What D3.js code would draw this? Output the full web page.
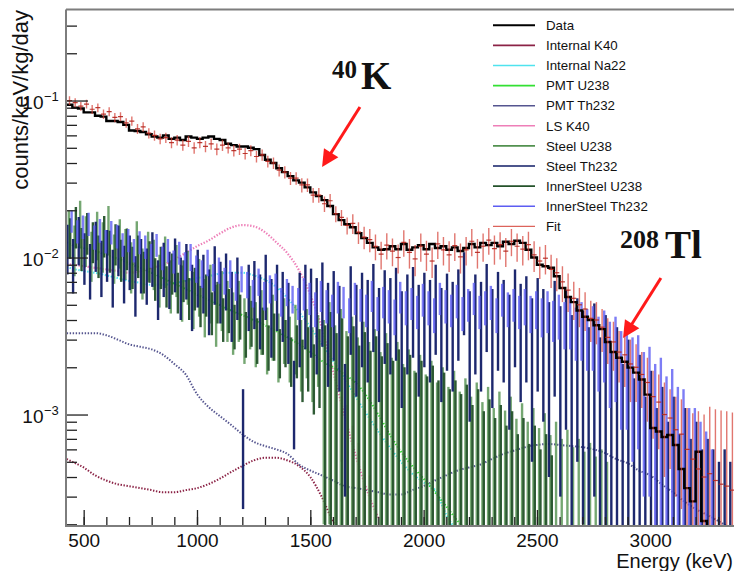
<!DOCTYPE html>
<html><head><meta charset="utf-8">
<script src="https://cdn.jsdelivr.net/npm/d3@7"></script>
<style>
html,body{margin:0;padding:0;background:#fff;}
svg{display:block;font-family:"Liberation Sans",Arial,Helvetica,sans-serif;}
</style></head><body>
<svg id="chart" width="734" height="571"></svg>
<script>
// ---------------- DATA ----------------
// Histogram bins: 25 keV wide, centres 437.5 ... 3362.5 keV (118 bins)
const binStart = 437.5, binWidth = 25, nBins = 118;

// Data (black histogram), counts/keV/kg/day
const dataVals = [
 .094,.090,.089,.084,.084,.080,.079,.074,.074,.073,
 .070,.0645,.064,.063,.061,.059,.058,.060,.057,.058,
 .056,.059,.058,.057,.058,.059,.057,.056,.053,.052,
 .051,.051,.050,.049,.045,.042,.040,.037,.035,.033,
 .031,.030,.028,.026,.0246,.0232,.0213,.0189,.0173,.0163,
 .0156,.0143,.0133,.0124,.0116,.0112,.0113,.0118,.0113,.0122,
 .0112,.0116,.0120,.0113,.0122,.0115,.0118,.0112,.0116,.0110,
 .0115,.0122,.0116,.0124,.0120,.0124,.0118,.0126,.0122,.0128,
 .0124,.0112,.0100,.0090,.0088,.0086,.0076,.0064,.0056,.0052,
 .0046,.0042,.0040,.0037,.0035,.0029,.0025,.0023,.00217,.00199,
 .00185,.00167,.00134,.00082,.00078,.00072,.00074,.00064,.00045,.00034,
 .00028,.00058,.00021,0,0,0,0,0];

// Fit (red points with error bars)
const fitVals = [
 .100,.097,.092,.095,.088,.090,.082,.085,.078,.079,
 .072,.074,.066,.068,.062,.060,.057,.058,.054,.056,
 .052,.055,.050,.054,.051,.053,.049,.052,.050,.048,
 .049,.046,.048,.044,.045,.041,.040,.036,.035,.032,
 .032,.029,.029,.025,.025,.022,.023,.019,.018,.016,
 .0165,.0145,.0135,.0130,.0118,.0105,.0120,.0110,.0100,.0125,
 .0108,.0098,.0118,.0105,.0095,.0122,.0112,.0104,.0119,.0101,
 .0112,.0127,.0108,.0118,.0129,.0114,.0121,.0110,.0127,.0118,
 .0113,.0121,.0104,.0095,.0099,.0084,.0080,.0070,.0062,.0055,
 .0050,.0047,.0041,.0040,.0036,.0031,.0029,.0025,.0024,.0021,
 .0020,.0018,.0016,.0013,.0012,.0010,.00095,.0008,.00075,.0006,
 .00052,.00045,.0004,.00042,.00038,.00036,.00035,.00033];
const fitErrs = [
 .0065,.0065,.006,.006,.0058,.0058,.0056,.0055,.0053,.0053,
 .005,.005,.0048,.0048,.0046,.0045,.0044,.0044,.0043,.0043,
 .0042,.0045,.0042,.0044,.0042,.0044,.0042,.0043,.0041,.0040,
 .0040,.0039,.0039,.0037,.0037,.0035,.0034,.0032,.0031,.0030,
 .0029,.0030,.0029,.0027,.0027,.0025,.0024,.0022,.0021,.0020,
 .0024,.0023,.0022,.0022,.0022,.0021,.0023,.0022,.0021,.0024,
 .0023,.0022,.0024,.0023,.0021,.0024,.0023,.0023,.0024,.0022,
 .0023,.0025,.0023,.0024,.0025,.0024,.0024,.0023,.0025,.0024,
 .0024,.0025,.0023,.0022,.0021,.0020,.0019,.0018,.0017,.0015,
 .0014,.0013,.0012,.0012,.0011,.0010,.0010,.0009,.0009,.0009,
 .0008,.0007,.0007,.0006,.0006,.0006,.0005,.0005,.0005,.0005,
 .0005,.0006,.0006,.0007,.0007,.0007,.0007,.0007];

// Steel / InnerSteel components, in units of 1e-4 counts/keV/kg/day
const UNIT = 1e-4;
const innerSteelTh232 = [
 172,148,158,165,136,150,128,146,138,122,
 130,112,126,118,104,121,100,112,95,108,
 90,102,86,80,94,76,84,72,80,66,
 74,68,60,71,58,64,66,53,61,55,
 52,60,56,48,58,50,47,57,53,44,
 56,51,47,58,45,53,50,43,57,49,
 52,46,55,49,44,56,50,47,54,45,
 51,56,46,49,53,44,55,48,51,46,
 50,45,48,43,47,41,44,39,41,35,
 37,33,34,28,31,25,27,21,22,18,
 19,14,15,11,12,9,10,7.5,7.5,5.5,
 5.5,4.5,3.8,3];
const innerSteelTh232Err = [
 28,25,27,28,24,26,22,25,24,21,
 22,19,21,20,18,20,17,19,16,18,
 18,20,17,16,18,15,16,14,16,13,
 14,13,12,14,12,13,13,11,12,11,
 12,14,13,12,13,12,11,13,12,11,
 13,12,11,13,11,12,12,11,13,12,
 12,11,13,12,11,13,12,11,13,11,
 12,13,11,12,13,11,13,12,12,11,
 13,12,13,12,14,12,14,13,15,13,
 15,14,15,14,15,14,15,13,14,13,
 13,11,12,10,11,8.5,9.5,7.5,7,5.5,
 5.5,4.5,4,3];
const steelTh232 = [
 120,95,135,105,88,125,92,110,80,118,
 85,100,72,95,82,105,68,90,78,96,
 70,88,62,80,74,58,84,66,76,55,
 70,8.5,62,65,52,72,48,62,55,45,
 14,50,58,54,46,60,42,52,40,12,
 56,40,50,44,58,38,52,46,54,36,
 48,55,40,50,44,57,38,49,42,53,
 70,35,48,42,58,37,50,44,33,52,
 40,46,30,44,36,28,42,26,35,22,
 30,24,18,27,15,22,12,18,10,15,
 8,12,6,9,5,7,4,6,3.5,5,
 3,4,2.5,3,2.5,2,2.5,2];
const steelTh232Err = [
 42,36,46,38,34,44,36,40,32,42,
 34,38,30,36,32,40,28,34,31,36,
 30,34,28,32,30,26,34,28,30,26,
 30,6,28,30,26,32,25,28,26,24,
 8,30,32,31,28,33,27,30,26,9,
 32,27,30,28,33,26,31,28,32,25,
 30,32,27,30,28,33,26,30,28,31,
 38,26,30,28,33,26,31,28,25,32,
 28,30,25,30,27,24,29,23,27,21,
 25,22,18,24,16,21,13,18,11,15,
 9,12,7,10,6,8,5,7,4,6,
 4,5,3.5,4,3.5,3,3.5,3];
const steelU238 = [
 150,118,172,135,108,146,124,158,104,130,
 112,92,126,84,108,96,76,100,70,88,
 64,80,58,70,52,64,47,58,50,42,
 50,38,46,36,43,33,40,30,38,29,
 34,27,32,24,29,21,27,19,24,17,
 21,15,19,14,17,12,16,11,14,10,
 12.5,9,11.5,8.5,10.5,7.5,9.5,7,9,6.5,
 8,6,7.5,5.5,7,5,6.5,4.8,6,4.2,
 5.4,4,5,3.6,4.6,3.2,4,3,3.5,2.6,
 3,2.4,2.8,2.2,2.5,2];
const steelU238Err = [
 50,42,58,48,38,50,44,55,36,45,
 40,33,44,30,38,34,28,36,26,32,
 25,30,23,28,21,26,20,24,21,18,
 21,17,20,16,19,15,18,14,17,13,
 16,13,15,12,14,19,25,18,23,17,
 21,16,20,15,18,13,17,12,15,11,
 13.5,10,12.5,9.5,11.5,8.5,10.5,8,10,7.5,
 9,7,8.5,6.5,8,6,7.5,5.8,7,5.2,
 6.4,5,6,4.6,5.6,4.2,5,4,4.5,3.6,
 4,3.4,3.8,3.2,3.5,3];
const innerSteelU238 = [
 138,162,118,148,130,106,142,114,126,100,
 118,90,106,84,98,76,90,68,82,62,
 74,57,66,51,60,46,54,42,48,38,
 44,34,40,31,36,28,33,26,30,23,
 27,21,25,19,23,19,23,17,21,16,
 19,14,17,13,16,12,14.5,11,13,10,
 12,9,11,8.5,10,8,9,7,8,6.5,
 7.5,5.5,7,5,6,4.5,5.5,4,5,3.5,
 4.5,3,4,2.8,3.5,2.5];
const innerSteelU238Err = [
 40,48,36,44,38,32,42,34,37,30,
 35,27,32,25,29,23,27,20,24,18,
 22,17,20,15,18,14,16,13,15,12,
 14,11,13,10,12,9,11,9,10,8,
 10,9,11,9,12,18,22,16,20,15.5,
 17.5,13.5,16.5,12.5,15.5,11.5,14,11,13,10,
 12,9.5,11,9,10.5,8.5,9.5,7.5,8.5,7,
 8,6,7.5,5.5,6.5,5,6,4.5,5.5,4,
 5,3.5,4.5,3.2,4,3];

// LS K40 tail bins (bins 48..53), units 1e-4, with errors
const lsK40TailBin0 = 48;
const lsK40Tail = [9, 6.5, 4.5, 3.4, 2.6, 2.1];
const lsK40TailErr = [4, 5, 4, 3.2, 2.5, 2];

// Smooth components (dotted), sampled at 425 keV then every 50 keV from 450 keV
const smoothStart = 425, smoothGridStart = 450, smoothStep = 50;
const internalK40 = [0.00052,0.00050,0.00046,0.00041,0.00038,0.00036,0.00035,0.00034,0.00033,0.00032,0.00032,0.00033,0.00034,0.00036,0.00039,0.00043,0.00047,0.00051,0.00053,0.00053,0.00051,0.00047,0.00040,0.00030,0.00021,0.00015];
const internalNa22 = [0.0087,0.0085,0.0082,0.0080,0.0077,0.0074,0.0071,0.0069,0.0067,0.0067,0.0069,0.0071,0.0074,0.0076,0.0079,0.0080,0.0080,0.0077,0.0072,0.0065,0.0055,0.0045,0.0036,0.0028,0.0022,0.0017,0.0013,0.0010,0.00078,0.00062,0.00050,0.00042,0.00037,0.00033,0.00023,0.00015];
const pmtU238 = [0.0125,0.012,0.0115,0.011,0.0104,0.0098,0.0092,0.0086,0.0080,0.0074,0.0068,0.0063,0.0058,0.0054,0.0050,0.0046,0.0043,0.0040,0.0037,0.0034,0.0031,0.0028,0.0025,0.0022,0.0020,0.0018,0.0016,0.0013,0.0010,0.00075,0.00058,0.00047,0.00039,0.00032,0.00026,0.00021,0.00017];
const pmtTh232 = [0.0033,0.0033,0.0033,0.0033,0.0032,0.0030,0.0028,0.0027,0.0026,0.0024,0.0021,0.0018,0.00135,0.00112,0.00098,0.00086,0.00075,0.00067,0.00063,0.00060,0.00056,0.00048,0.00044,0.00041,0.00038,0.00035,0.00034,0.00033,0.00032,0.00031,0.00031,0.00033,0.00035,0.00038,0.00041,0.00044,0.00046,0.00048,0.00052,0.00056,0.00059,0.00062,0.00064,0.00065,0.00064,0.00063,0.00062,0.00060,0.00057,0.00052,0.00049,0.00044,0.00041,0.00036,0.00032,0.00028,0.00025,0.00023,0.00021,0.00019];
const lsK40 = [0.0091,0.0090,0.0088,0.0086,0.0084,0.0082,0.0080,0.0082,0.0086,0.0090,0.0097,0.0107,0.0118,0.0128,0.0142,0.0155,0.0161,0.0158,0.0145,0.0125,0.0106,0.0083,0.0058,0.0036,0.0019,0.0010,0.00055,0.00033,0.00022];

// Axis ticks / labels
const xMajorTicks = [500,1000,1500,2000,2500,3000];
const xMinorTicks = d3.range(500, 3400, 100);
const yMajorTicks = [1e-3, 1e-2, 1e-1];
const yMajorExp = ["\u22123", "\u22122", "\u22121"];
const legendLabels = ["Data","Internal K40","Internal Na22","PMT U238","PMT Th232","LS K40","Steel U238","Steel Th232","InnerSteel U238","InnerSteel Th232","Fit"];
const xTitle = "Energy (keV)", yTitle = "counts/keV/kg/day";

// Annotations (in data coordinates)
const annotations = [
  {sup:"40", main:"K", E:1596, v:0.1184, supRaise:11},
  {sup:"208", main:"Tl", E:2866, v:0.00993, supRaise:10}
];
const arrows = [
  {E0:1719, v0:0.0909, E1:1552, v1:0.0377},
  {E0:3047, v0:0.0074, E1:2880, v1:0.00307}
];

// ---------------- STYLES ----------------
const colors = {
  data:"#000000", k40:"#8b2346", na22:"#4fe3ee", pmtU:"#33e033", pmtTh:"#55558f",
  lsK40:"#ee7fb8", steelU:"#52914f", steelTh:"#111c66", innerU:"#24522a", innerTh:"#5d5df2", fit:"#d43c32"
};
const legendColors = [colors.data,colors.k40,colors.na22,colors.pmtU,colors.pmtTh,colors.lsK40,colors.steelU,colors.steelTh,colors.innerU,colors.innerTh,colors.fit];

// ---------------- DRAW ----------------
const svg = d3.select("#chart");
const X0 = 66, X1 = 740, Y0 = 9.5, Y1 = 526;
const x = d3.scaleLinear().domain([422, 3396]).range([X0, X1]);
const y = d3.scaleLog().domain([1.95e-4, 0.38]).range([Y1, Y0]);
const yc = v => (v > 0) ? Math.min(y(v), Y1 + 6) : Y1 + 6;

const binCenters = d3.range(nBins).map(i => binStart + binWidth * i);
const smoothE = [smoothStart].concat(d3.range(smoothGridStart, 3400, smoothStep));

svg.append("defs").append("clipPath").attr("id","plotclip")
  .append("rect").attr("x",X0).attr("y",Y0).attr("width",734-X0).attr("height",Y1-Y0);
const plot = svg.append("g").attr("clip-path","url(#plotclip)");

// dotted smooth components
const line = d3.line().x(d => x(d[0])).y(d => yc(d[1])).curve(d3.curveMonotoneX);
function dotted(vals, color, w) {
  plot.append("path").datum(vals.map((v,i) => [smoothE[i], v]))
    .attr("d", line).attr("fill","none").attr("stroke", color)
    .attr("stroke-width", w || 2).attr("stroke-dasharray","1.4 1.6");
}
dotted(internalK40, colors.k40);
dotted(pmtTh232, colors.pmtTh);
dotted(internalNa22, colors.na22);
dotted(pmtU238, colors.pmtU);
dotted(lsK40, colors.lsK40, 2.2);

// error-bar components (each drawn slightly shifted so the columns interleave)
function errBars(vals, errs, scale, color, width, opacity, dx, bin0) {
  const b0 = bin0 || 0;
  const g = plot.append("g");
  g.selectAll("line").data(vals.map((v,i) => ({c:binCenters[b0 + i], v:v*scale, e:errs[i]*scale})))
    .join("line")
    .attr("x1", d => x(d.c) + dx).attr("x2", d => x(d.c) + dx)
    .attr("y1", d => yc(d.v + d.e)).attr("y2", d => yc(d.v - d.e))
    .attr("stroke", color).attr("stroke-width", width).attr("stroke-opacity", opacity);
  return g;
}
errBars(lsK40Tail, lsK40TailErr, UNIT, colors.lsK40, 2.2, 0.9, 0, lsK40TailBin0);
errBars(steelU238, steelU238Err, UNIT, colors.steelU, 2.4, 0.8, -0.7);
errBars(innerSteelU238, innerSteelU238Err, UNIT, colors.innerU, 2.4, 0.95, 0.7);
errBars(steelTh232, steelTh232Err, UNIT, colors.steelTh, 2.4, 0.95, -2.1);
errBars(innerSteelTh232, innerSteelTh232Err, UNIT, colors.innerTh, 2.4, 0.8, 2.1);

// Data histogram (steps)
let dPath = "";
binCenters.forEach((c,i) => {
  const yy = yc(dataVals[i]);
  dPath += (i ? "L" : "M") + x(c - binWidth/2) + "," + yy + "L" + x(c + binWidth/2) + "," + yy;
});
plot.append("path").attr("d", dPath).attr("fill","none").attr("stroke", colors.data).attr("stroke-width", 2.4);

// Fit points with error bars
const fitG = plot.append("g");
const fitData = fitVals.map((v,i) => ({c:binCenters[i], v, e:fitErrs[i]}));
fitG.selectAll("line.eb").data(fitData).join("line").attr("class","eb")
  .attr("x1", d => x(d.c)).attr("x2", d => x(d.c))
  .attr("y1", d => yc(d.v + d.e)).attr("y2", d => yc(d.v - d.e))
  .attr("stroke", colors.fit).attr("stroke-width", 1.4).attr("stroke-opacity", 0.7);
fitG.selectAll("line.ct").data(fitData).join("line").attr("class","ct")
  .attr("x1", d => x(d.c) - 2.5).attr("x2", d => x(d.c) + 2.5)
  .attr("y1", d => yc(d.v)).attr("y2", d => yc(d.v))
  .attr("stroke", "#b3261e").attr("stroke-width", 1.2).attr("stroke-opacity", 0.9);

// ---------------- AXES ----------------
const tickCol = "#222";
const yMinor = [];
[-4,-3,-2,-1].forEach(k => { for (let m = 2; m <= 9; m++) { const v = m * Math.pow(10,k); if (v >= 1.95e-4 && v <= 0.38) yMinor.push(v); } });
const yMinorAxis = svg.append("g").attr("transform", `translate(${X0},0)`)
  .call(d3.axisRight(y).tickValues(yMinor).tickSize(11).tickFormat(""));
const yMajorAxis = svg.append("g").attr("transform", `translate(${X0},0)`)
  .call(d3.axisRight(y).tickValues(yMajorTicks).tickSize(22).tickFormat(""));
const xMinorAxis = svg.append("g").attr("transform", `translate(0,${Y1})`)
  .call(d3.axisBottom(x).tickValues(xMinorTicks).tickSize(-9).tickFormat(""));
const xMajorAxis = svg.append("g").attr("transform", `translate(0,${Y1})`)
  .call(d3.axisBottom(x).tickValues(xMajorTicks).tickSize(-16).tickPadding(8).tickFormat(d3.format("d")));
[yMinorAxis, yMajorAxis, xMinorAxis, xMajorAxis].forEach(a => {
  a.select(".domain").remove();
  a.selectAll(".tick line").attr("stroke", tickCol).attr("stroke-width", 1.3);
});
xMajorAxis.selectAll(".tick text").attr("font-size", 19).attr("fill","#111")
  .attr("font-family",'"Liberation Sans",Arial,sans-serif');

// y labels 10^k
const yl = svg.append("g");
yMajorTicks.forEach((v,i) => {
  yl.append("text").attr("x", 43.5).attr("y", y(v) + 8).attr("text-anchor","end")
    .attr("font-size", 19).attr("fill","#111").text("10");
  yl.append("text").attr("x", 44).attr("y", y(v) + 0.5).attr("text-anchor","start")
    .attr("font-size", 13).attr("fill","#111").text(yMajorExp[i]);
});

// frame
const frame = svg.append("g").attr("stroke","#7d7d7d").attr("stroke-width",2);
frame.append("line").attr("x1",X0).attr("x2",X0).attr("y1",Y0).attr("y2",Y1+1);
frame.append("line").attr("x1",X0).attr("x2",734).attr("y1",Y0).attr("y2",Y0);
frame.append("line").attr("x1",X0-1).attr("x2",734).attr("y1",Y1).attr("y2",Y1);

// titles
svg.append("text").attr("x", 733).attr("y", 568).attr("text-anchor","end")
  .attr("font-size", 20).attr("fill","#111").text(xTitle);
svg.append("text").attr("transform","translate(27.5,10) rotate(-90)").attr("text-anchor","end")
  .attr("font-size", 22).attr("fill","#111").text(yTitle);

// legend
const leg = svg.append("g");
legendLabels.forEach((lab,i) => {
  const yy = 25.3 + 20.1 * i;
  leg.append("line").attr("x1",493).attr("x2",535).attr("y1",yy).attr("y2",yy)
    .attr("stroke", legendColors[i]).attr("stroke-width", lab === "Fit" ? 1 : (lab === "Data" ? 2 : 1.6));
  leg.append("text").attr("x",546).attr("y",yy + 4.7).attr("font-size",13.3).attr("fill","#111").text(lab);
});

// annotations
const ann = svg.append("g").attr("font-family",'"Liberation Serif","DejaVu Serif",serif').attr("font-weight","bold").attr("fill","#111");
annotations.forEach(a => {
  const t = ann.append("text").attr("x", x(a.E)).attr("y", y(a.v));
  t.append("tspan").attr("font-size", a.sup.length > 2 ? 26 : 25).attr("dy", -a.supRaise).text(a.sup);
  t.append("tspan").attr("font-size", 39).attr("dx", a.sup.length > 2 ? 6 : 4).attr("dy", a.supRaise).text(a.main);
});
arrows.forEach(a => {
  const xa = x(a.E0), ya = y(a.v0), xb = x(a.E1), yb = y(a.v1);
  const L = Math.hypot(xb - xa, yb - ya), ux = (xb - xa)/L, uy = (yb - ya)/L;
  const hl = 17, hw = 8.5;
  svg.append("line").attr("x1", xa).attr("y1", ya).attr("x2", xb - ux*hl*0.8).attr("y2", yb - uy*hl*0.8)
    .attr("stroke","#ff1a1a").attr("stroke-width",3);
  const bx = xb - ux*hl, by = yb - uy*hl;
  svg.append("polygon").attr("points", [[xb,yb],[bx - uy*hw, by + ux*hw],[bx + uy*hw, by - ux*hw]].map(p => p.join(",")).join(" "))
    .attr("fill","#ff1a1a");
});
</script>
</body></html>
